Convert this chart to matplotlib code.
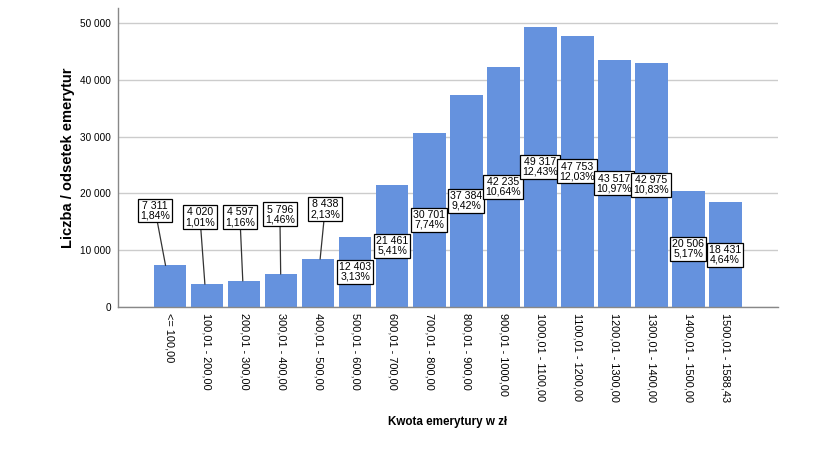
import matplotlib
matplotlib.use("Agg")
import matplotlib.pyplot as plt

plt.rcParams['font.family'] = ['Liberation Sans', 'DejaVu Sans']

categories = ["<= 100,00", "100,01 - 200,00", "200,01 - 300,00", "300,01 - 400,00",
              "400,01 - 500,00", "500,01 - 600,00", "600,01 - 700,00", "700,01 - 800,00",
              "800,01 - 900,00", "900,01 - 1000,00", "1000,01 - 1100,00", "1100,01 - 1200,00",
              "1200,01 - 1300,00", "1300,01 - 1400,00", "1400,01 - 1500,00", "1500,01 - 1588,43"]
counts = [7311, 4020, 4597, 5796, 8438, 12403, 21461, 30701, 37384, 42235,
          49317, 47753, 43517, 42975, 20506, 18431]
percents = ["1,84%", "1,01%", "1,16%", "1,46%", "2,13%", "3,13%", "5,41%", "7,74%",
            "9,42%", "10,64%", "12,43%", "12,03%", "10,97%", "10,83%", "5,17%", "4,64%"]
yticks = [0, 10000, 20000, 30000, 40000, 50000]
ytick_labels = ["0", "10 000", "20 000", "30 000", "40 000", "50 000"]

# callout placement for the small bars (index: (dx, y))
callouts = {0: (-0.40, 17000), 1: (-0.19, 15800), 2: (-0.11, 15800),
            3: (-0.03, 16300), 4: (0.19, 17200)}

fig = plt.figure(figsize=(8.4, 4.68), dpi=100)
ax = fig.add_axes([118/840, 1-307/468, (778-118)/840, (307-8)/468])

x = list(range(len(categories)))
ax.bar(x, counts, width=0.89, color='#6592DE', zorder=2)

ax.set_xlim(-1.405, 16.43)
ax.set_ylim(0, 52630)
ax.set_yticks(yticks)
ax.set_yticklabels(ytick_labels, fontsize=7.2)
ax.yaxis.grid(True, color='#cccccc', linewidth=1, zorder=0)
ax.set_axisbelow(True)
ax.set_xticks(x)
ax.set_xticklabels(categories, rotation=270, fontsize=7.9, va='top', ha='center')
ax.tick_params(axis='y', length=0, pad=5)
ax.tick_params(axis='x', length=0, pad=4)
for s in ['top', 'right']:
    ax.spines[s].set_visible(False)
for s in ['left', 'bottom']:
    ax.spines[s].set_color('#888888')
    ax.spines[s].set_linewidth(1)

ax.set_ylabel("Liczba / odsetek emerytur", fontsize=10.5, fontweight='bold', labelpad=4)
ax.set_xlabel("Kwota emerytury w zł", fontsize=8.4, fontweight='bold', labelpad=10)

bbox = dict(boxstyle='square,pad=0.2', facecolor='white', edgecolor='black', linewidth=0.9)
for i, (c, p) in enumerate(zip(counts, percents)):
    label = f"{c:,}".replace(",", " ") + "\n" + p
    if i in callouts:
        dx, yy = callouts[i]
        ax.annotate(label, xy=(i + dx * 0.3, c), xytext=(i + dx, yy),
                    ha='center', va='center', fontsize=7.6, linespacing=0.95,
                    bbox=bbox, zorder=4,
                    arrowprops=dict(arrowstyle='-', color='#333333', linewidth=0.9,
                                    shrinkA=0, shrinkB=0))
    else:
        ax.text(i, c / 2, label, ha='center', va='center', fontsize=7.6,
                linespacing=0.95, bbox=bbox, zorder=4)

fig.savefig("out.png", dpi=100)
